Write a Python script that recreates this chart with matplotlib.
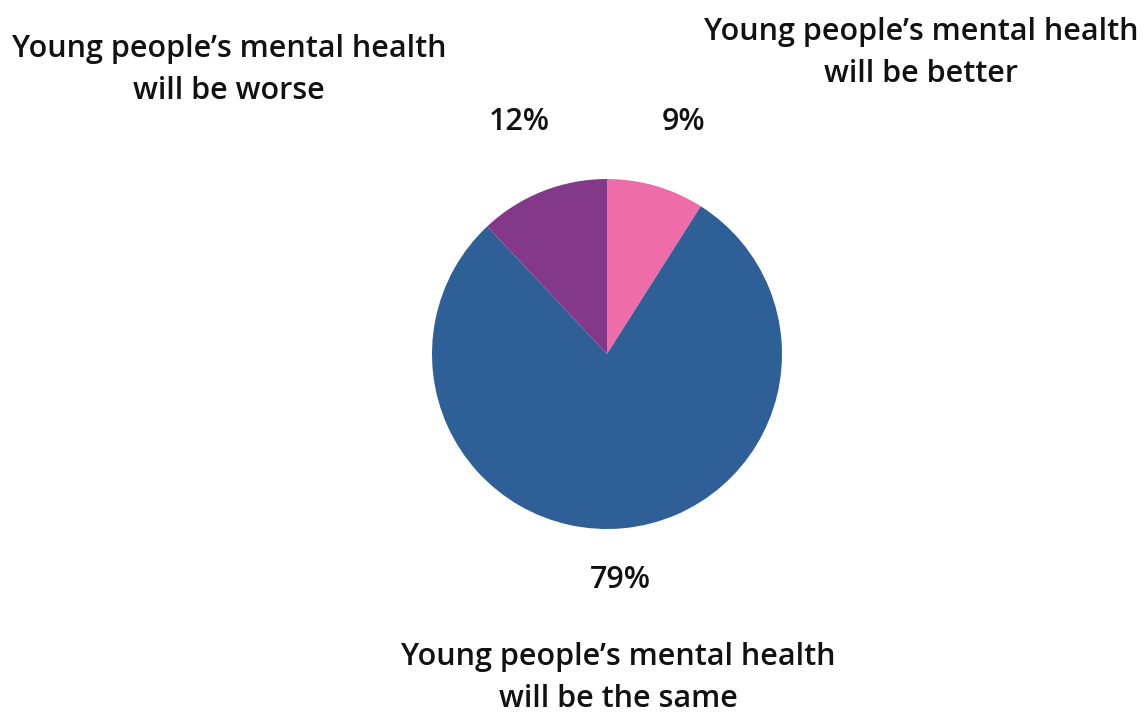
import matplotlib
matplotlib.use("Agg")
import matplotlib.pyplot as plt

categories = ["Young people\u2019s mental health\nwill be better",
              "Young people\u2019s mental health\nwill be the same",
              "Young people\u2019s mental health\nwill be worse"]
values = [9, 79, 12]
colors = ["#EE6CA7", "#2E5F97", "#833889"]

W, H = 1146, 716
fig = plt.figure(figsize=(W / 100, H / 100), dpi=100)
plt.rcParams['font.family'] = ['Open Sans', 'DejaVu Sans']

cx, cy, r = 607, 354, 175
ax = fig.add_axes([(cx - r) / W, (H - cy - r) / H, 2 * r / W, 2 * r / H])
ax.pie(values, colors=colors, startangle=90, counterclock=False, radius=1,
       wedgeprops=dict(linewidth=0))
ax.set_xlim(-1, 1)
ax.set_ylim(-1, 1)
ax.set_aspect('equal')
ax.axis('off')

fs = 22
pct_pos = [(684, 122), (620, 580), (519, 122)]
cat_pos = [(921, 53), (618, 678), (229, 70)]
for v, (x, y) in zip(values, pct_pos):
    fig.text(x / W, 1 - y / H, f"{v}%", ha='center', va='center', fontsize=fs,
             color='#111111', fontweight='semibold')
for c, (x, y) in zip(categories, cat_pos):
    fig.text(x / W, 1 - y / H, c, ha='center', va='center', fontsize=fs, color='#111111',
             linespacing=1.48, fontweight='semibold')

fig.savefig("out.png", dpi=100)
